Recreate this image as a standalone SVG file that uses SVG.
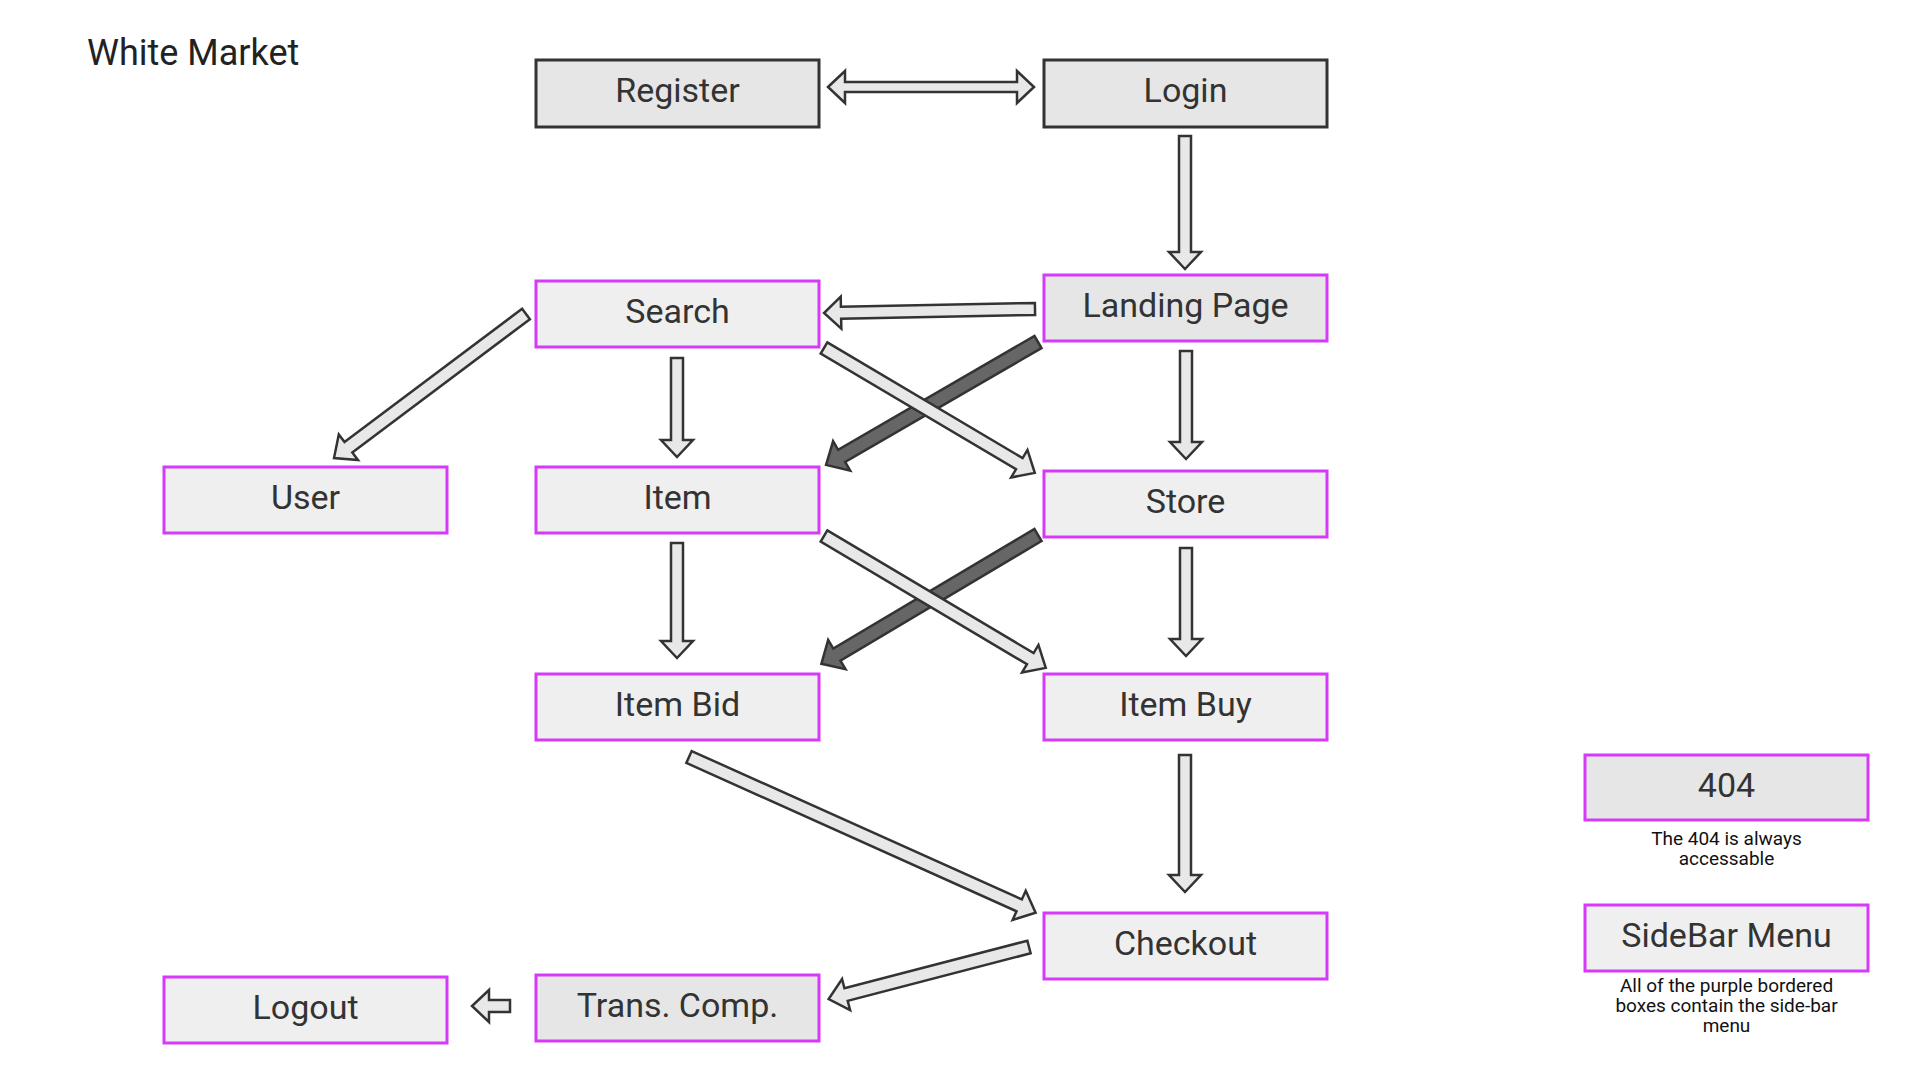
<svg xmlns="http://www.w3.org/2000/svg" width="1920" height="1080" viewBox="0 0 1920 1080">
<style>
.bg{fill:#ffffff}
.title{font-family:Roboto,"Liberation Sans",sans-serif;font-size:36px;fill:#222}
.lbl{font-family:Roboto,"Liberation Sans",sans-serif;font-size:34px;fill:#333;text-anchor:middle}
.lbl2{font-family:Roboto,"Liberation Sans",sans-serif;font-size:34px;fill:#333;text-anchor:middle}
.note{font-family:Roboto,"Liberation Sans",sans-serif;font-size:19px;fill:#111;text-anchor:middle}
.plain{fill:#e6e6e6;stroke:#333;stroke-width:3}
.pA{fill:#e6e6e6;stroke:#d63af9;stroke-width:3}
.pB{fill:#efefef;stroke:#d63af9;stroke-width:3}
.ar{fill:#e8e8e8;stroke:#333;stroke-width:2.5;stroke-linejoin:miter}
.dk{fill:#666;stroke:#333;stroke-width:2.5;stroke-linejoin:miter}
</style>
<rect class="bg" x="0" y="0" width="1920" height="1080"/>
<text class="title" x="87" y="65">White Market</text>

<g id="connectors">
  <polygon class="ar" points="828,87 845,71 845,82 1017,82 1017,71 1034,87 1017,103 1017,92 845,92 845,103"/>
  <polygon class="ar" transform="translate(1185,136) rotate(90)" points="0,-6 116,-6 116,-16 133,0 116,16 116,6 0,6"/>
  <polygon class="ar" transform="translate(1035,309) rotate(178.9)" points="0,-6 194,-6 194,-16 211,0 194,16 194,6 0,6"/>
  <polygon class="ar" transform="translate(526,314) rotate(143.13)" points="0,-6.5 222,-6.5 222,-16 240,0 222,16 222,6.5 0,6.5"/>
  <polygon class="ar" transform="translate(677,358) rotate(90)" points="0,-6 82,-6 82,-16 99,0 82,16 82,6 0,6"/>
  <polygon class="dk" transform="translate(1038,342) rotate(149.88)" points="0,-7 227,-7 227,-17 245,0 227,17 227,7 0,7"/>
  <polygon class="ar" transform="translate(824,348) rotate(30.64)" points="0,-6.5 227,-6.5 227,-16 245,0 227,16 227,6.5 0,6.5"/>
  <polygon class="ar" transform="translate(1186,351) rotate(90)" points="0,-6 91,-6 91,-16 108,0 91,16 91,6 0,6"/>
  <polygon class="ar" transform="translate(677,543) rotate(90)" points="0,-6 98,-6 98,-16 115,0 98,16 98,6 0,6"/>
  <polygon class="ar" transform="translate(1186,548) rotate(90)" points="0,-6 91,-6 91,-16 108,0 91,16 91,6 0,6"/>
  <polygon class="dk" transform="translate(1038,535) rotate(149.27)" points="0,-7 234,-7 234,-17 252,0 234,17 234,7 0,7"/>
  <polygon class="ar" transform="translate(824,536) rotate(30.74)" points="0,-6.5 240,-6.5 240,-16 258,0 240,16 240,6.5 0,6.5"/>
  <polygon class="ar" transform="translate(689,757) rotate(24.2)" points="0,-6.5 362,-6.5 362,-16 380,0 362,16 362,6.5 0,6.5"/>
  <polygon class="ar" transform="translate(1185,755) rotate(90)" points="0,-6 120,-6 120,-16 137,0 120,16 120,6 0,6"/>
  <polygon class="ar" transform="translate(1029,947) rotate(165.43)" points="0,-6.5 189,-6.5 189,-16 207,0 189,16 189,6.5 0,6.5"/>
  <polygon class="ar" transform="translate(510,1006) rotate(180)" points="0,-6 21,-6 21,-16 38,0 21,16 21,6 0,6"/>
</g>

<g id="register"><rect class="plain" x="536" y="60" width="283" height="67"/><text class="lbl" x="677.5" y="102">Register</text></g>
<g id="login"><rect class="plain" x="1044" y="60" width="283" height="67"/><text class="lbl" x="1185.5" y="102">Login</text></g>
<g id="landing"><rect class="pA" x="1044" y="275" width="283" height="66"/><text class="lbl" x="1185.5" y="317">Landing Page</text></g>
<g id="search"><rect class="pB" x="536" y="281" width="283" height="66"/><text class="lbl" x="677.5" y="323">Search</text></g>
<g id="user"><rect class="pB" x="164" y="467" width="283" height="66"/><text class="lbl" x="305.5" y="509">User</text></g>
<g id="item"><rect class="pB" x="536" y="467" width="283" height="66"/><text class="lbl" x="677.5" y="509">Item</text></g>
<g id="store"><rect class="pB" x="1044" y="471" width="283" height="66"/><text class="lbl" x="1185.5" y="513">Store</text></g>
<g id="itembid"><rect class="pB" x="536" y="674" width="283" height="66"/><text class="lbl" x="677.5" y="716">Item Bid</text></g>
<g id="itembuy"><rect class="pB" x="1044" y="674" width="283" height="66"/><text class="lbl" x="1185.5" y="716">Item Buy</text></g>
<g id="checkout"><rect class="pB" x="1044" y="913" width="283" height="66"/><text class="lbl" x="1185.5" y="955">Checkout</text></g>
<g id="transcomp"><rect class="pA" x="536" y="975" width="283" height="66"/><text class="lbl" x="677.5" y="1017">Trans. Comp.</text></g>
<g id="logout"><rect class="pB" x="164" y="977" width="283" height="66"/><text class="lbl" x="305.5" y="1019">Logout</text></g>
<g id="n404"><rect class="pA" x="1585" y="755" width="283" height="65"/><text class="lbl2" x="1726.5" y="797">404</text>
  <text class="note" x="1726.5" y="845">The 404 is always</text><text class="note" x="1726.5" y="865">accessable</text></g>
<g id="sidebar"><rect class="pB" x="1585" y="905" width="283" height="66"/><text class="lbl2" x="1726.5" y="947">SideBar Menu</text>
  <text class="note" x="1726.5" y="992">All of the purple bordered</text><text class="note" x="1726.5" y="1012">boxes contain the side-bar</text><text class="note" x="1726.5" y="1032">menu</text></g>
</svg>
